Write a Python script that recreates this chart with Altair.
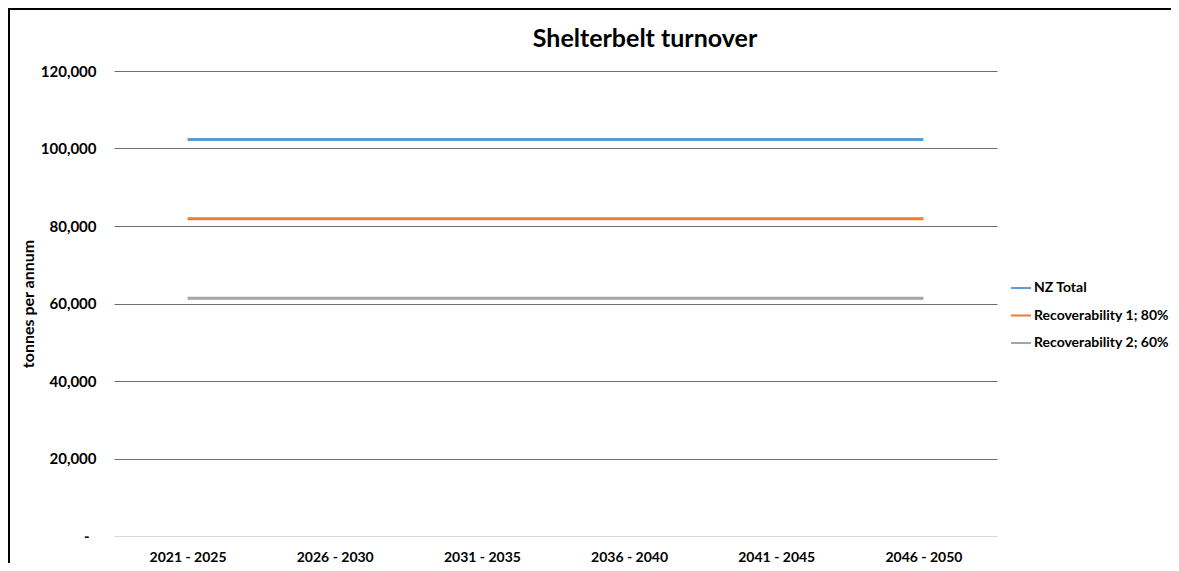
import altair as alt
import pandas as pd

periods = ["2021 - 2025", "2026 - 2030", "2031 - 2035", "2036 - 2040", "2041 - 2045", "2046 - 2050"]
series_names = ["NZ Total", "Recoverability 1; 80%", "Recoverability 2; 60%"]
nz_total = [102300, 102300, 102300, 102300, 102300, 102300]
recoverability_1 = [81840, 81840, 81840, 81840, 81840, 81840]
recoverability_2 = [61380, 61380, 61380, 61380, 61380, 61380]
colors = ["#5B9BD5", "#ED7D31", "#A5A5A5"]
y_ticks = [0, 20000, 40000, 60000, 80000, 100000, 120000]
chart_title = "Shelterbelt turnover"

rows = []
for name, vals in zip(series_names, [nz_total, recoverability_1, recoverability_2]):
    for p, v in zip(periods, vals):
        rows.append({"period": p, "series": name, "value": v})
df = pd.DataFrame(rows)

FONT = "Lato"

lines = alt.Chart(df).mark_line(strokeWidth=3).encode(
    x=alt.X("period:N", sort=periods, title=None,
            axis=alt.Axis(labelAngle=0, ticks=False, domain=False, labelPadding=14,
                          labelFontSize=14, labelFontWeight="bold", labelColor="#000")),
    y=alt.Y("value:Q", scale=alt.Scale(domain=[0, 120000]), title="tonnes per annum",
            axis=alt.Axis(values=y_ticks, ticks=False, domain=False,
                          labelPadding={"condition": {"test": "datum.value === 0", "value": 25}, "value": 18},
                          labelFontSize=15, labelFontWeight="bold", labelColor="#000",
                          labelExpr="datum.value == 0 ? '-' : format(datum.value, ',')",
                          gridColor={"condition": {"test": "datum.value === 0", "value": "#d9d9d9"}, "value": "#6e6e6e"},
                          titleFontSize=16, titleFontWeight="bold", titleColor="#000", titlePadding=4)),
    color=alt.Color("series:N", sort=series_names,
                    scale=alt.Scale(domain=series_names, range=colors),
                    legend=alt.Legend(title=None, orient="none", legendX=896, legendY=206,
                                      symbolType="stroke", symbolSize=400, symbolStrokeWidth=2,
                                      labelFontSize=14, labelFontWeight="bold", labelColor="#000",
                                      labelOffset=2, rowPadding=9.5, padding=0)),
)

one = alt.Data(values=[{"a": 1}])

border_top = alt.Chart(one).mark_rule(stroke="#000", strokeWidth=2, clip=False).encode(
    x=alt.value(-106), x2=alt.value(1100), y=alt.value(-62)
)
border_left = alt.Chart(one).mark_rule(stroke="#000", strokeWidth=2, clip=False).encode(
    x=alt.value(-105), y=alt.value(-63), y2=alt.value(520)
)

title = alt.Chart(one).mark_text(
    text=chart_title, font=FONT, fontSize=25, fontWeight="bold", color="#000",
    align="center", baseline="middle"
).encode(x=alt.value(531), y=alt.value(-32))

chart = alt.layer(border_top, border_left, title, lines).properties(
    width=883, height=465,
    padding={"left": 106, "top": 63, "right": 174, "bottom": 27},
    autosize=alt.AutoSizeParams(type="none"),
).configure(font=FONT).configure_view(stroke=None)

chart.save("out.html", embed_options={"renderer": "svg", "actions": False})
